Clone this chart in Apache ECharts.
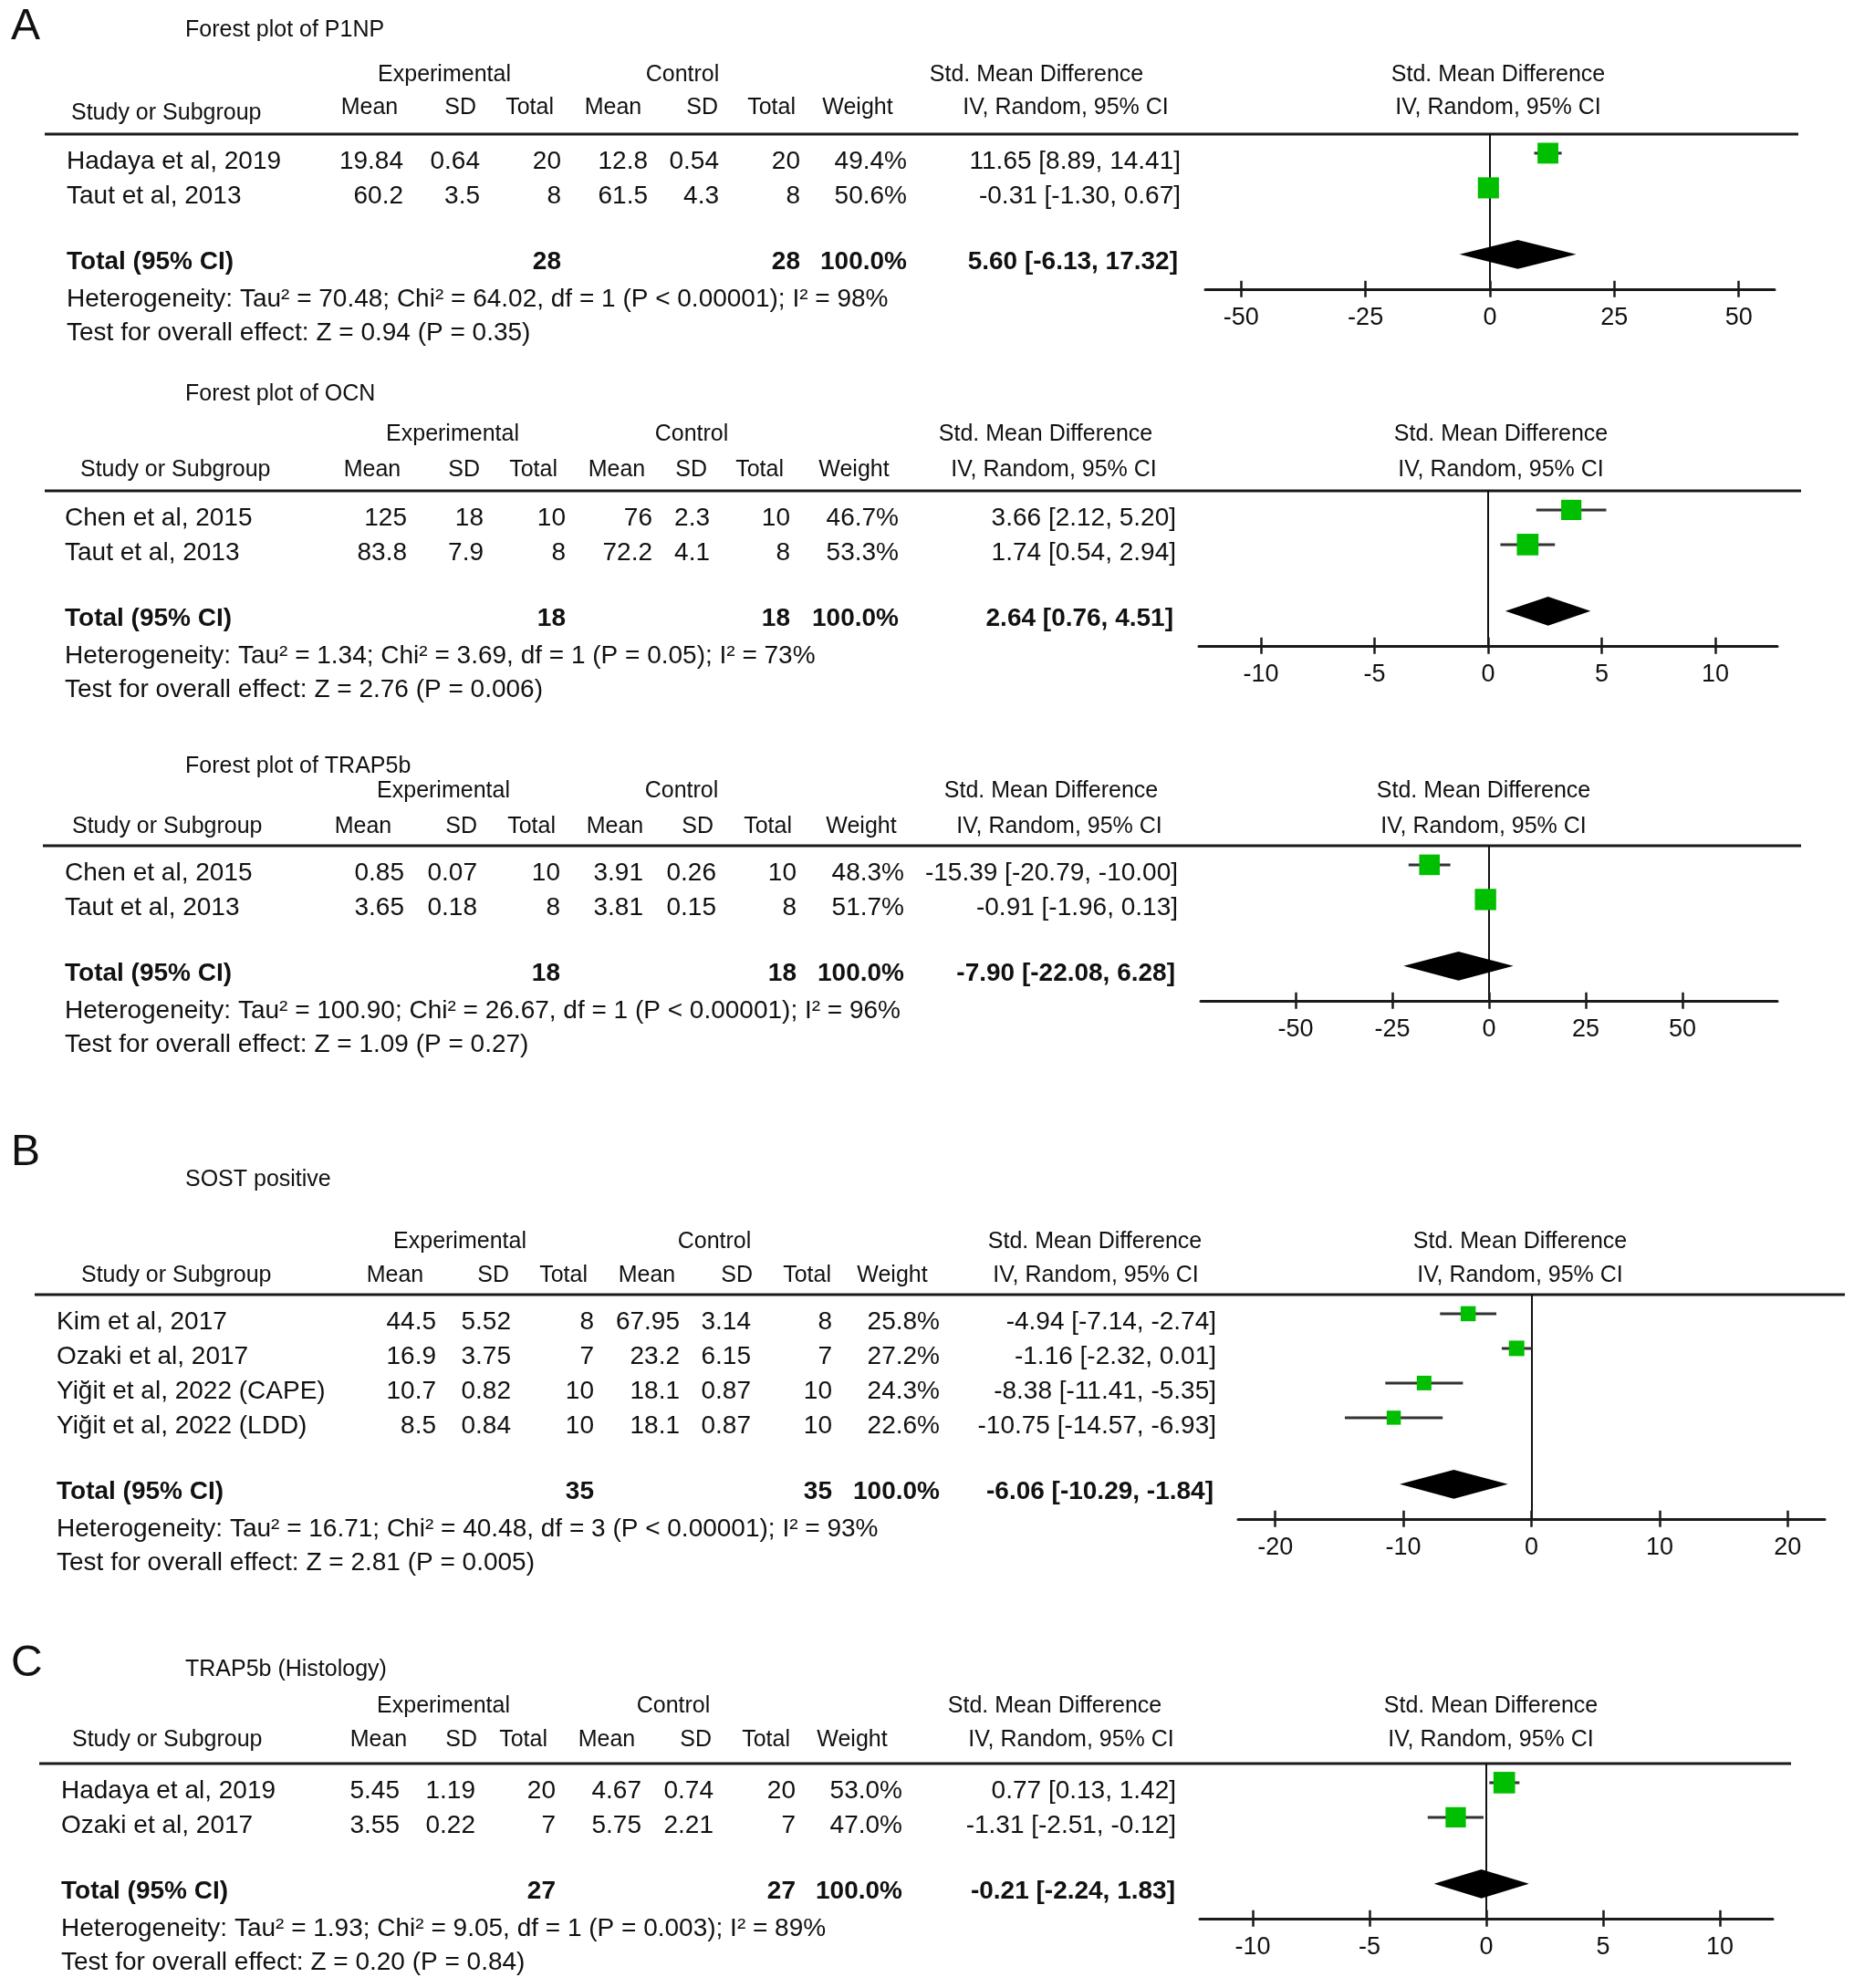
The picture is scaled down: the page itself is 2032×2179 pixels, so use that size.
<!DOCTYPE html>
<html><head><meta charset="utf-8">
<script src="https://cdn.jsdelivr.net/npm/echarts@6/dist/echarts.min.js"></script>
<style>html,body{margin:0;padding:0;background:#fff}#c{width:2032px;height:2179px}</style>
</head><body><div id="c"></div>
<script>
// ---------------- DATA ----------------
// Panel A1: P1NP
const p1np_studies = ['Hadaya et al, 2019', 'Taut et al, 2013'];
const p1np_expMean = [19.84, 60.2];
const p1np_expSD = [0.64, 3.5];
const p1np_expN = [20, 8];
const p1np_ctlMean = [12.8, 61.5];
const p1np_ctlSD = [0.54, 4.3];
const p1np_ctlN = [20, 8];
const p1np_weight = [49.4, 50.6];
const p1np_smd = [11.65, -0.31];
const p1np_lo = [8.89, -1.30];
const p1np_hi = [14.41, 0.67];
const p1np_total = [5.60, -6.13, 17.32];
const p1np_het = [70.48, 64.02, 1, 'P < 0.00001', 98];
const p1np_test = [0.94, 'P = 0.35'];
const p1np_ticks = [-50, -25, 0, 25, 50];

// Panel A2: OCN
const ocn_studies = ['Chen et al, 2015', 'Taut et al, 2013'];
const ocn_expMean = [125, 83.8];
const ocn_expSD = [18, 7.9];
const ocn_expN = [10, 8];
const ocn_ctlMean = [76, 72.2];
const ocn_ctlSD = [2.3, 4.1];
const ocn_ctlN = [10, 8];
const ocn_weight = [46.7, 53.3];
const ocn_smd = [3.66, 1.74];
const ocn_lo = [2.12, 0.54];
const ocn_hi = [5.20, 2.94];
const ocn_total = [2.64, 0.76, 4.51];
const ocn_het = [1.34, 3.69, 1, 'P = 0.05', 73];
const ocn_test = [2.76, 'P = 0.006'];
const ocn_ticks = [-10, -5, 0, 5, 10];

// Panel A3: TRAP5b
const trap_studies = ['Chen et al, 2015', 'Taut et al, 2013'];
const trap_expMean = [0.85, 3.65];
const trap_expSD = [0.07, 0.18];
const trap_expN = [10, 8];
const trap_ctlMean = [3.91, 3.81];
const trap_ctlSD = [0.26, 0.15];
const trap_ctlN = [10, 8];
const trap_weight = [48.3, 51.7];
const trap_smd = [-15.39, -0.91];
const trap_lo = [-20.79, -1.96];
const trap_hi = [-10.00, 0.13];
const trap_total = [-7.90, -22.08, 6.28];
const trap_het = [100.90, 26.67, 1, 'P < 0.00001', 96];
const trap_test = [1.09, 'P = 0.27'];
const trap_ticks = [-50, -25, 0, 25, 50];

// Panel B: SOST positive
const sost_studies = ['Kim et al, 2017', 'Ozaki et al, 2017', 'Yiğit et al, 2022 (CAPE)', 'Yiğit et al, 2022 (LDD)'];
const sost_expMean = [44.5, 16.9, 10.7, 8.5];
const sost_expSD = [5.52, 3.75, 0.82, 0.84];
const sost_expN = [8, 7, 10, 10];
const sost_ctlMean = [67.95, 23.2, 18.1, 18.1];
const sost_ctlSD = [3.14, 6.15, 0.87, 0.87];
const sost_ctlN = [8, 7, 10, 10];
const sost_weight = [25.8, 27.2, 24.3, 22.6];
const sost_smd = [-4.94, -1.16, -8.38, -10.75];
const sost_lo = [-7.14, -2.32, -11.41, -14.57];
const sost_hi = [-2.74, 0.01, -5.35, -6.93];
const sost_total = [-6.06, -10.29, -1.84];
const sost_het = [16.71, 40.48, 3, 'P < 0.00001', 93];
const sost_test = [2.81, 'P = 0.005'];
const sost_ticks = [-20, -10, 0, 10, 20];

// Panel C: TRAP5b (Histology)
const hist_studies = ['Hadaya et al, 2019', 'Ozaki et al, 2017'];
const hist_expMean = [5.45, 3.55];
const hist_expSD = [1.19, 0.22];
const hist_expN = [20, 7];
const hist_ctlMean = [4.67, 5.75];
const hist_ctlSD = [0.74, 2.21];
const hist_ctlN = [20, 7];
const hist_weight = [53.0, 47.0];
const hist_smd = [0.77, -1.31];
const hist_lo = [0.13, -2.51];
const hist_hi = [1.42, -0.12];
const hist_total = [-0.21, -2.24, 1.83];
const hist_het = [1.93, 9.05, 1, 'P = 0.003', 89];
const hist_test = [0.20, 'P = 0.84'];
const hist_ticks = [-10, -5, 0, 5, 10];

// ---------------- LAYOUT ----------------
const FONT = '"Liberation Sans", Arial, Helvetica, sans-serif';
const ROW = 38;
const panels = [
  { title: 'Forest plot of P1NP', letter: 'A', letterY: 30,
    studies: p1np_studies, expMean: p1np_expMean, expSD: p1np_expSD, expN: p1np_expN,
    ctlMean: p1np_ctlMean, ctlSD: p1np_ctlSD, ctlN: p1np_ctlN, weight: p1np_weight,
    smd: p1np_smd, lo: p1np_lo, hi: p1np_hi, total: p1np_total, het: p1np_het, test: p1np_test, ticks: p1np_ticks,
    L: { titleY: 33, h1Y: 82, h2Y: 118, studyHY: 124, topY: 147, rule: [49, 1971],
      hdr: { study: 78, mean1: 405, sd1: 522, tot1: 607, mean2: 672, sd2: 787, tot2: 872, weight: 940, smd: 1136, iv: 1168, exp: 487, ctl: 748, plot: 1642 },
      col: { study: 73, mean1: 442, sd1: 526, tot1: 615, mean2: 710, sd2: 788, tot2: 877, weight: 994, ci: 1294, totci: 1291 },
      axis: [1321, 1945], min: -57.2, max: 57.2 } },
  { title: 'Forest plot of OCN',
    studies: ocn_studies, expMean: ocn_expMean, expSD: ocn_expSD, expN: ocn_expN,
    ctlMean: ocn_ctlMean, ctlSD: ocn_ctlSD, ctlN: ocn_ctlN, weight: ocn_weight,
    smd: ocn_smd, lo: ocn_lo, hi: ocn_hi, total: ocn_total, het: ocn_het, test: ocn_test, ticks: ocn_ticks,
    L: { titleY: 432, h1Y: 476, h2Y: 515, studyHY: 515, topY: 538, rule: [49, 1974],
      hdr: { study: 88, mean1: 408, sd1: 526, tot1: 611, mean2: 676, sd2: 775, tot2: 859, weight: 936, smd: 1146, iv: 1155, exp: 496, ctl: 758, plot: 1645 },
      col: { study: 71, mean1: 446, sd1: 530, tot1: 620, mean2: 715, sd2: 778, tot2: 866, weight: 985, ci: 1289, totci: 1286 },
      axis: [1314, 1948], min: -12.73, max: 12.73 } },
  { title: 'Forest plot of TRAP5b',
    studies: trap_studies, expMean: trap_expMean, expSD: trap_expSD, expN: trap_expN,
    ctlMean: trap_ctlMean, ctlSD: trap_ctlSD, ctlN: trap_ctlN, weight: trap_weight,
    smd: trap_smd, lo: trap_lo, hi: trap_hi, total: trap_total, het: trap_het, test: trap_test, ticks: trap_ticks,
    L: { titleY: 840, h1Y: 867, h2Y: 906, studyHY: 906, topY: 927, rule: [47, 1974],
      hdr: { study: 79, mean1: 398, sd1: 523, tot1: 609, mean2: 674, sd2: 782, tot2: 868, weight: 944, smd: 1152, iv: 1161, exp: 486, ctl: 747, plot: 1626 },
      col: { study: 71, mean1: 443, sd1: 523, tot1: 614, mean2: 705, sd2: 785, tot2: 873, weight: 991, ci: 1291, totci: 1288 },
      axis: [1316, 1948], min: -74.5, max: 74.5 } },
  { title: 'SOST positive', letter: 'B', letterY: 1264,
    studies: sost_studies, expMean: sost_expMean, expSD: sost_expSD, expN: sost_expN,
    ctlMean: sost_ctlMean, ctlSD: sost_ctlSD, ctlN: sost_ctlN, weight: sost_weight,
    smd: sost_smd, lo: sost_lo, hi: sost_hi, total: sost_total, het: sost_het, test: sost_test, ticks: sost_ticks,
    L: { titleY: 1293, h1Y: 1361, h2Y: 1398, studyHY: 1398, topY: 1419, rule: [38, 2022],
      hdr: { study: 89, mean1: 433, sd1: 558, tot1: 644, mean2: 709, sd2: 825, tot2: 911, weight: 978, smd: 1200, iv: 1201, exp: 504, ctl: 783, plot: 1666 },
      col: { study: 62, mean1: 478, sd1: 560, tot1: 651, mean2: 745, sd2: 823, tot2: 912, weight: 1030, ci: 1333, totci: 1330 },
      axis: [1357, 2000], min: -22.9, max: 22.9 } },
  { title: 'TRAP5b (Histology)', letter: 'C', letterY: 1824,
    studies: hist_studies, expMean: hist_expMean, expSD: hist_expSD, expN: hist_expN,
    ctlMean: hist_ctlMean, ctlSD: hist_ctlSD, ctlN: hist_ctlN, weight: hist_weight,
    smd: hist_smd, lo: hist_lo, hi: hist_hi, total: hist_total, het: hist_het, test: hist_test, ticks: hist_ticks,
    L: { titleY: 1830, h1Y: 1870, h2Y: 1907, studyHY: 1907, topY: 1933, rule: [43, 1963],
      hdr: { study: 79, mean1: 415, sd1: 523, tot1: 600, mean2: 665, sd2: 780, tot2: 866, weight: 934, smd: 1156, iv: 1174, exp: 486, ctl: 738, plot: 1634 },
      col: { study: 67, mean1: 438, sd1: 521, tot1: 609, mean2: 703, sd2: 782, tot2: 872, weight: 989, ci: 1289, totci: 1288 },
      axis: [1315, 1943], min: -12.27, max: 12.27 } }
];

// ---------------- BUILD ----------------
const TXT = '#111';
function txt(x, y, text, align, size, bold) {
  return { type: 'text', x: x, y: y, silent: true,
    style: { text: String(text), fill: TXT, font: (bold ? 'bold ' : '') + size + 'px ' + FONT,
      align: align, verticalAlign: 'middle', textAlign: align, textVerticalAlign: 'middle' } };
}
const f2 = v => v.toFixed(2);
const ciText = (e, l, h) => f2(e) + ' [' + f2(l) + ', ' + f2(h) + ']';

const grids = [], xAxes = [], yAxes = [], series = [], graphics = [];

panels.forEach((p, k) => {
  const L = p.L, n = p.studies.length, H = L.hdr, C = L.col;
  const yMax = n + 2.47;
  if (p.letter) graphics.push(txt(12, p.letterY, p.letter, 'left', 48, false));
  graphics.push(txt(203, L.titleY, p.title, 'left', 25, false));
  graphics.push(txt(H.exp, L.h1Y, 'Experimental', 'center', 25));
  graphics.push(txt(H.ctl, L.h1Y, 'Control', 'center', 25));
  graphics.push(txt(H.smd, L.h1Y, 'Std. Mean Difference', 'center', 25));
  graphics.push(txt(H.plot, L.h1Y, 'Std. Mean Difference', 'center', 25));
  graphics.push(txt(H.study, L.studyHY, 'Study or Subgroup', 'left', 25));
  graphics.push(txt(H.mean1, L.h2Y, 'Mean', 'center', 25));
  graphics.push(txt(H.sd1, L.h2Y, 'SD', 'right', 25));
  graphics.push(txt(H.tot1, L.h2Y, 'Total', 'right', 25));
  graphics.push(txt(H.mean2, L.h2Y, 'Mean', 'center', 25));
  graphics.push(txt(H.sd2, L.h2Y, 'SD', 'right', 25));
  graphics.push(txt(H.tot2, L.h2Y, 'Total', 'right', 25));
  graphics.push(txt(H.weight, L.h2Y, 'Weight', 'center', 25));
  graphics.push(txt(H.iv, L.h2Y, 'IV, Random, 95% CI', 'center', 25));
  graphics.push(txt(H.plot, L.h2Y, 'IV, Random, 95% CI', 'center', 25));
  graphics.push({ type: 'line', silent: true, shape: { x1: L.rule[0], y1: L.topY, x2: L.rule[1], y2: L.topY },
    style: { stroke: '#1a1a1a', lineWidth: 3 } });
  p.studies.forEach((s, i) => {
    const y = L.topY + 30 + i * ROW;
    graphics.push(txt(C.study, y, s, 'left', 28));
    graphics.push(txt(C.mean1, y, p.expMean[i], 'right', 28));
    graphics.push(txt(C.sd1, y, p.expSD[i], 'right', 28));
    graphics.push(txt(C.tot1, y, p.expN[i], 'right', 28));
    graphics.push(txt(C.mean2, y, p.ctlMean[i], 'right', 28));
    graphics.push(txt(C.sd2, y, p.ctlSD[i], 'right', 28));
    graphics.push(txt(C.tot2, y, p.ctlN[i], 'right', 28));
    graphics.push(txt(C.weight, y, p.weight[i].toFixed(1) + '%', 'right', 28));
    graphics.push(txt(C.ci, y, ciText(p.smd[i], p.lo[i], p.hi[i]), 'right', 28));
  });
  const ty = L.topY + 30 + (n - 1) * ROW + 72;
  const sum = a => a.reduce((s, v) => s + v, 0);
  graphics.push(txt(C.study, ty, 'Total (95% CI)', 'left', 28, true));
  graphics.push(txt(C.tot1, ty, sum(p.expN), 'right', 28, true));
  graphics.push(txt(C.tot2, ty, sum(p.ctlN), 'right', 28, true));
  graphics.push(txt(C.weight, ty, '100.0%', 'right', 28, true));
  graphics.push(txt(C.totci, ty, ciText(p.total[0], p.total[1], p.total[2]), 'right', 28, true));
  const h = p.het;
  graphics.push(txt(C.study, ty + 41, 'Heterogeneity: Tau² = ' + f2(h[0]) + '; Chi² = ' + f2(h[1]) + ', df = ' + h[2] + ' (' + h[3] + '); I² = ' + h[4] + '%', 'left', 28));
  graphics.push(txt(C.study, ty + 78, 'Test for overall effect: Z = ' + f2(p.test[0]) + ' (' + p.test[1] + ')', 'left', 28));

  grids.push({ left: L.axis[0], width: L.axis[1] - L.axis[0], top: L.topY, height: yMax * ROW,
    containLabel: false, outerBoundsMode: 'none' });
  const tickStyle = { color: '#1a1a1a', width: 2.5 };
  xAxes.push({ gridIndex: k, type: 'value', min: L.min, max: L.max, position: 'bottom',
    axisLine: { show: true, onZero: false, lineStyle: { color: '#1a1a1a', width: 3 } },
    axisTick: { show: true, inside: false, length: 9, customValues: p.ticks, lineStyle: tickStyle },
    axisLabel: { show: true, customValues: p.ticks, margin: 18, fontSize: 27, color: TXT, fontFamily: FONT,
      showMinLabel: true, showMaxLabel: true },
    splitLine: { show: false } });
  xAxes.push({ gridIndex: k, type: 'value', min: L.min, max: L.max, position: 'bottom', offset: 0,
    axisLine: { show: false, onZero: false },
    axisTick: { show: true, inside: true, length: 9, customValues: p.ticks, lineStyle: tickStyle },
    axisLabel: { show: false }, splitLine: { show: false } });
  yAxes.push({ gridIndex: k, type: 'value', inverse: true, min: 0, max: yMax,
    axisLine: { show: true, onZero: true, lineStyle: { color: '#111', width: 2 } },
    axisTick: { show: false }, axisLabel: { show: false }, splitLine: { show: false } });

  const xi = 2 * k;
  series.push({ type: 'custom', xAxisIndex: xi, yAxisIndex: k, silent: true, z: 2, clip: false,
    data: p.studies.map((s, i) => [p.lo[i], p.hi[i], 0.55 + i]),
    encode: { x: [0, 1], y: 2 },
    renderItem: (params, api) => {
      const a = api.coord([api.value(0), api.value(2)]);
      const b = api.coord([api.value(1), api.value(2)]);
      return { type: 'line', shape: { x1: a[0], y1: a[1], x2: b[0], y2: b[1] },
        style: { stroke: '#333', lineWidth: 3 } };
    } });
  series.push({ type: 'scatter', xAxisIndex: xi, yAxisIndex: k, silent: true, z: 3, symbol: 'rect',
    data: p.smd.map((v, i) => ({ value: [v, 0.55 + i], symbolSize: 3.25 * Math.sqrt(p.weight[i]) })),
    itemStyle: { color: '#00bf00', opacity: 1 } });
  series.push({ type: 'custom', xAxisIndex: xi, yAxisIndex: k, silent: true, z: 3, clip: false,
    data: [[p.total[0], p.total[1], p.total[2], n + 1.47]],
    encode: { x: [0, 1, 2], y: 3 },
    renderItem: (params, api) => {
      const y = api.value(3);
      const l = api.coord([api.value(1), y]);
      const r = api.coord([api.value(2), y]);
      const t = api.coord([api.value(0), y - 0.42]);
      const b = api.coord([api.value(0), y + 0.42]);
      return { type: 'polygon', shape: { points: [l, t, r, b] }, style: { fill: '#000' } };
    } });
});

const chart = echarts.init(document.getElementById('c'), null, { renderer: 'canvas' });
chart.setOption({
  animation: false,
  backgroundColor: '#fff',
  grid: grids, xAxis: xAxes, yAxis: yAxes, series: series,
  graphic: { elements: graphics }
});
</script></body></html>
